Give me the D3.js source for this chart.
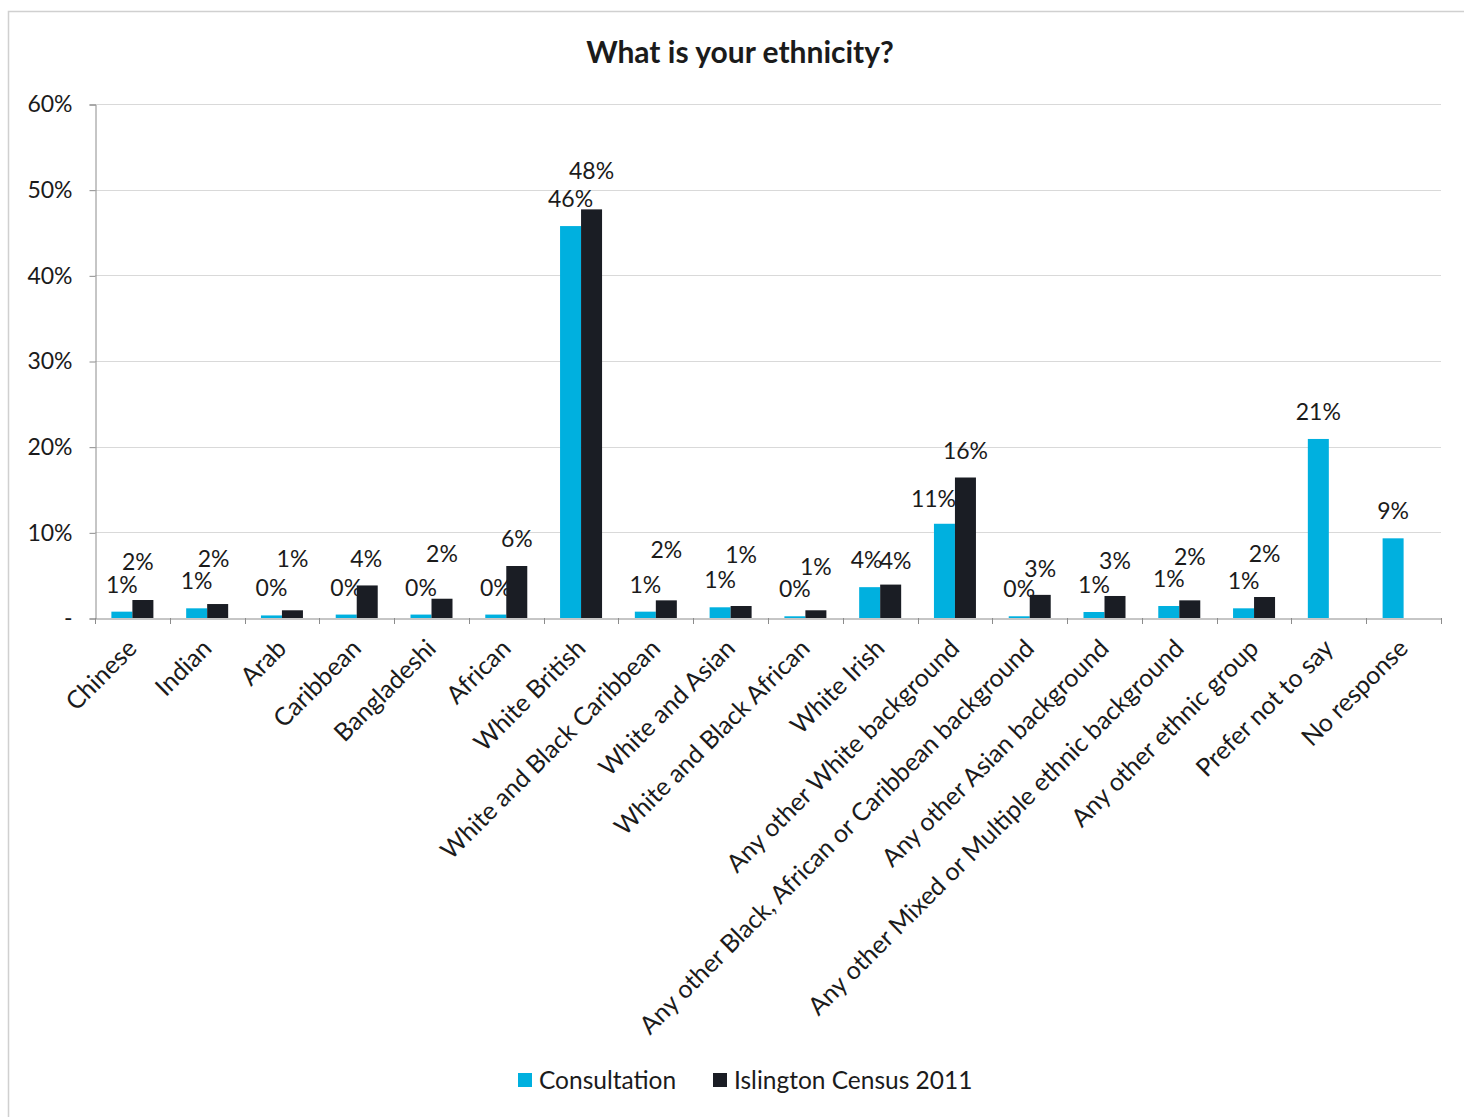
<!DOCTYPE html>
<html>
<head>
<meta charset="utf-8">
<script src="https://cdn.jsdelivr.net/npm/d3@7"></script>
<style>
  html, body { margin: 0; padding: 0; background: #fff; }
  svg { display: block; }
  text { font-family: Lato, "Open Sans", sans-serif; fill: #1b1b1b; }
</style>
</head>
<body>
<svg id="chart" width="1464" height="1117"></svg>
<script>
const categories = ["Chinese", "Indian", "Arab", "Caribbean", "Bangladeshi", "African", "White British",
  "White and Black Caribbean", "White and Asian", "White and Black African", "White Irish",
  "Any other White background", "Any other Black, African or Caribbean background",
  "Any other Asian background", "Any other Mixed or Multiple ethnic background",
  "Any other ethnic group", "Prefer not to say", "No response"];
const consultation = [0.74, 1.13, 0.3, 0.4, 0.4, 0.4, 45.75, 0.74, 1.25, 0.2, 3.6, 11.0, 0.2, 0.7, 1.4, 1.13, 20.9, 9.3];
const census2011 = [2.1, 1.63, 0.9, 3.8, 2.25, 6.07, 47.7, 2.06, 1.4, 0.9, 3.9, 16.4, 2.7, 2.57, 2.06, 2.45, null, null];
const seriesNames = ["Consultation", "Islington Census 2011"];
const yTicks = [0, 10, 20, 30, 40, 50, 60];
const yTickLabels = ["-", "10%", "20%", "30%", "40%", "50%", "60%"];
const colors = ["#00B0DF", "#1A1D24"];

// layout: data-label placement (pixels above bar top, horizontal nudge), as in the original hand-placed labels
const labelLift = [
  [19, 19, 19, 19, 19, 19, 19, 19, 19, 19, 19, 17, 19, 19, 19, 19, 19, 19],
  [30, 37, 43, 18, 37, 19, 30, 42, 43, 35, 16, 19, 18, 27, 35, 35, 0, 0]
];
const labelDx = [
  [0, 0, 0, 0, 0, 0, 0, 0, 0, 0, -3, -11, 0, 0, 0, 0, 0, 0],
  [-5, -4, 0, -1, 0, 0, 0, 0, 0, 0, 5, 0, 0, 0, 0, 0, 0, 0]
];

const svg = d3.select("#chart");
const W = 1464, H = 1117;
const mLeft = 95, mRight = 1441, mTop = 104, mBottom = 618;

// outer border
svg.append("rect").attr("x", 8.5).attr("y", 11.5).attr("width", W + 10).attr("height", H + 10)
  .attr("fill", "none").attr("stroke", "#d0d0d0").attr("stroke-width", 1.5);

const x = d3.scaleBand().domain(categories).range([mLeft, mRight]).paddingInner(0).paddingOuter(0);
const y = d3.scaleLinear().domain([0, 60]).range([mBottom, mTop]);
const barW = 21;
const x1 = d3.scaleBand().domain(seriesNames).range([0, barW * 2]);

// gridlines
svg.append("g").selectAll("line").data(yTicks.filter(d => d > 0)).join("line")
  .attr("x1", mLeft).attr("x2", mRight)
  .attr("y1", d => Math.round(y(d)) + 0.5).attr("y2", d => Math.round(y(d)) + 0.5)
  .attr("stroke", "#d9d9d9").attr("stroke-width", 1);

// y axis
const yAxis = d3.axisLeft(y).tickValues(yTicks).tickSize(6).tickPadding(17)
  .tickFormat((d, i) => yTickLabels[i]);
const gy = svg.append("g").attr("transform", `translate(${mLeft + 0.5},0.5)`).call(yAxis);
gy.select(".domain").attr("stroke", "#8c8c8c");
gy.selectAll(".tick line").attr("stroke", "#8c8c8c");
gy.selectAll("text").style("font-size", "23px").attr("fill", "#1b1b1b")
  .style("font-family", "Lato, sans-serif");

// bars
const series = [consultation, census2011];
series.forEach((vals, si) => {
  const g = svg.append("g");
  const data = categories.map((c, i) => ({ c, i, v: vals[i] })).filter(d => d.v !== null);
  const off = (x.bandwidth() - barW * 2) / 2;
  g.selectAll("rect").data(data).join("rect")
    .attr("x", d => x(d.c) + off + x1(seriesNames[si]))
    .attr("y", d => y(d.v))
    .attr("width", barW)
    .attr("height", d => y(0) - y(d.v))
    .attr("fill", colors[si]);
  g.selectAll("text").data(data).join("text")
    .attr("x", d => x(d.c) + off + x1(seriesNames[si]) + barW / 2 + labelDx[si][d.i])
    .attr("y", d => y(d.v) - labelLift[si][d.i])
    .attr("text-anchor", "middle")
    .style("font-size", "23px")
    .text(d => Math.round(d.v) + "%");
});

// x axis
const xAxis = d3.axisBottom(x).tickSize(0).tickFormat("");
const gx = svg.append("g").attr("transform", `translate(0,${mBottom + 0.5})`).call(xAxis);
gx.select(".domain").attr("stroke", "#8c8c8c");
// tick marks at band boundaries
const bounds = categories.map(c => x(c)).concat([mRight]);
svg.append("g").selectAll("line").data(bounds).join("line")
  .attr("x1", d => Math.round(d) + 0.5).attr("x2", d => Math.round(d) + 0.5)
  .attr("y1", mBottom).attr("y2", mBottom + 6)
  .attr("stroke", "#8c8c8c");

// category labels rotated
svg.append("g").selectAll("text").data(categories).join("text")
  .attr("transform", d => `translate(${x(d) + x.bandwidth() / 2 + 6},${650}) rotate(-45)`)
  .attr("text-anchor", "end")
  .style("font-size", "25px")
  .text(d => d);

// title
svg.append("text").attr("x", 740).attr("y", 63).attr("text-anchor", "middle")
  .style("font-size", "30px").style("font-weight", "bold").text("What is your ethnicity?");

// legend
const legendX = [518, 713];
seriesNames.forEach((n, i) => {
  svg.append("rect").attr("x", legendX[i]).attr("y", 1073).attr("width", 14).attr("height", 14)
    .attr("fill", colors[i]);
  svg.append("text").attr("x", legendX[i] + 21).attr("y", 1089)
    .style("font-size", "24.5px").text(n);
});
</script>
</body>
</html>
